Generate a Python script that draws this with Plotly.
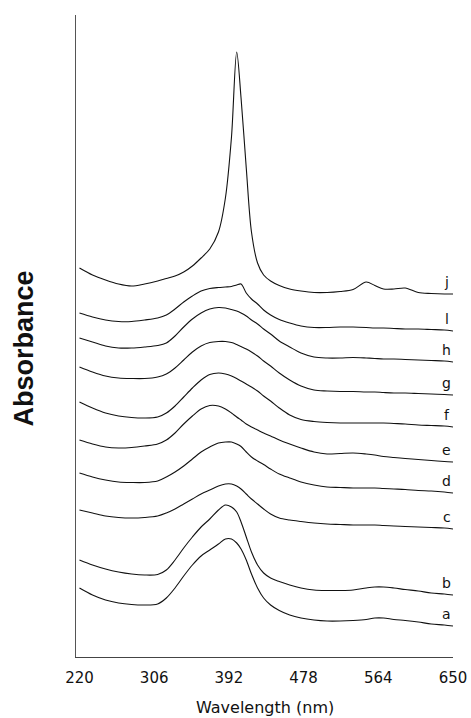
import plotly.graph_objects as go

# Wavelength grid (nm) shared by all spectra
wavelength = [220, 235, 250, 265, 280, 295, 310, 320, 330, 340, 350, 360, 370, 380,
              388, 395, 401, 406, 412, 418, 425, 432, 440, 450, 462, 475, 490, 505,
              520, 535, 550, 560, 570, 582, 595, 610, 625, 640, 650]

# Spectra (relative absorbance, arbitrary units) before vertical offset
spec_a = [38, 31, 26, 23, 21.5, 21, 22, 28, 38, 50, 61, 70, 76, 82, 87, 87, 83, 77, 66, 52,
          38, 28, 21, 15.5, 11, 8, 6, 5, 5, 5.5, 6.5, 8, 8, 6.5, 5.5, 4, 2, 1, 0]
spec_b = [35, 30, 26, 23, 21, 20, 20.5, 25, 35, 47, 58, 68, 76, 85, 90, 88, 83, 73, 58, 43,
          30, 22, 17, 13.5, 10, 7, 5, 4.5, 4.5, 5, 7, 8, 8, 7, 5.5, 4, 2, 1, 0]
spec_c = [19, 16, 13, 11.5, 11, 11.5, 13, 16, 20, 25, 30, 35, 39, 43, 45, 45, 43, 40, 35, 30,
          25, 20, 15, 11, 9, 7.5, 6, 5, 4.5, 4, 4, 4, 3.5, 3, 2.5, 2, 1.5, 1, 0]
spec_d = [20, 16, 13, 11, 10.5, 10.5, 12, 16, 21, 27, 34, 41, 46, 50, 51, 51, 49, 46.5, 41, 36,
          32, 28.5, 24, 19, 15, 11, 8, 6, 5.5, 5, 5, 5, 4.5, 4, 3.5, 2.5, 2, 1, 0]
spec_e = [22, 18, 15, 14, 14.5, 16, 18, 22, 29, 38, 46, 53, 56.5, 56, 53, 49, 45, 42, 38, 35,
          32, 29, 26, 22, 18, 14, 10, 8, 8.5, 9, 8, 7, 5.5, 4.5, 3.5, 2.5, 1.5, 0.5, 0]
spec_f = [25, 19, 14, 11, 9.5, 9, 10, 14, 21, 30, 39, 47, 52.5, 54, 53, 51, 48.5, 46, 43, 40,
          36, 31, 26, 19, 12, 7.5, 5.5, 4.5, 4, 4, 4, 4, 4, 3.5, 3, 2, 1.5, 1, 0]
spec_g = [28, 23, 19, 17, 16.5, 16.5, 18, 21, 27, 35, 43, 49, 52.5, 53.5, 53.5, 52.5, 50.5, 48.5,
          46, 43, 39, 34, 29, 22, 15, 9, 5, 4, 3.5, 3.5, 3, 3, 2.5, 2, 2, 1.5, 1, 0.5, 0]
spec_h = [24, 20, 16, 14, 14, 15, 16.5, 19, 26, 35, 43, 49, 53, 54.5, 54, 52.5, 51, 49, 46, 42,
          38, 33, 28, 21, 15, 9, 5, 4, 4, 4.5, 4, 3.5, 3, 3, 2.5, 2, 1.5, 1, 0]
spec_l = [18, 14, 11, 9.5, 9.5, 11, 13, 16, 22, 29, 35, 40, 42.5, 43.5, 44, 44.5, 46, 47, 38, 32,
          27, 21, 16, 11.5, 8, 5, 3.5, 3.5, 4, 4, 3.5, 3, 3, 2.5, 2, 2, 1.5, 1, 0]
spec_j = [26, 19, 14, 10, 8, 10, 13, 15.5, 18, 22, 28, 36, 45, 62, 96, 157, 242, 196, 126, 62,
          31, 19, 13, 8.5, 5, 3, 1.5, 1.5, 2.5, 4.5, 12, 8.5, 5, 5, 6, 1.5, 0.5, 0, 0]

# Trace labels, spectra and vertical offsets for the stacked display
labels = ["a", "b", "c", "d", "e", "f", "g", "h", "l", "j"]
spectra = [spec_a, spec_b, spec_c, spec_d, spec_e, spec_f, spec_g, spec_h, spec_l, spec_j]
offsets = [31, 62, 128, 164, 195, 230, 262, 295, 326, 363]

x_ticks = [220, 306, 392, 478, 564, 650]

fig = go.Figure()
annotations = []
for name, spec, off in zip(labels, spectra, offsets):
    y = [v + off for v in spec]
    fig.add_trace(go.Scatter(
        x=wavelength, y=y, mode="lines", name=name,
        line=dict(color="#111111", width=1.1, shape="spline", smoothing=0.9),
        showlegend=False, hoverinfo="skip",
    ))
    annotations.append(dict(
        x=643, y=y[-1], xref="x", yref="y", text=name, showarrow=False,
        xanchor="center", yanchor="bottom", yshift=2,
        font=dict(family="DejaVu Sans", size=14, color="#111111"),
    ))

annotations.append(dict(
    x=0.5, y=-0.079, xref="paper", yref="paper", text="Wavelength (nm)",
    showarrow=False, xanchor="center", yanchor="middle",
    font=dict(family="DejaVu Sans", size=16, color="#111111"),
))
annotations.append(dict(
    x=-0.137, y=0.481, xref="paper", yref="paper", text="<b>Absorbance</b>",
    showarrow=False, xanchor="center", yanchor="middle", textangle=-90,
    font=dict(family="Liberation Sans", size=27, color="#111111"),
))

fig.update_layout(
    width=471, height=718,
    margin=dict(l=76, r=18, t=15, b=61, autoexpand=False),
    paper_bgcolor="white", plot_bgcolor="white",
    annotations=annotations,
    xaxis=dict(
        range=[216, 650], tickvals=x_ticks, ticktext=[str(t) for t in x_ticks],
        showline=True, linecolor="#444444", linewidth=1, automargin=False,
        ticks="outside", ticklen=7, tickcolor="rgba(0,0,0,0)",
        showgrid=False, zeroline=False,
        tickfont=dict(family="DejaVu Sans", size=15, color="#111111"),
    ),
    yaxis=dict(
        range=[0, 642], showline=True, linecolor="#555555", linewidth=1,
        automargin=False, showticklabels=False, ticks="", showgrid=False,
        zeroline=False,
    ),
)

fig.write_html("out.html")
